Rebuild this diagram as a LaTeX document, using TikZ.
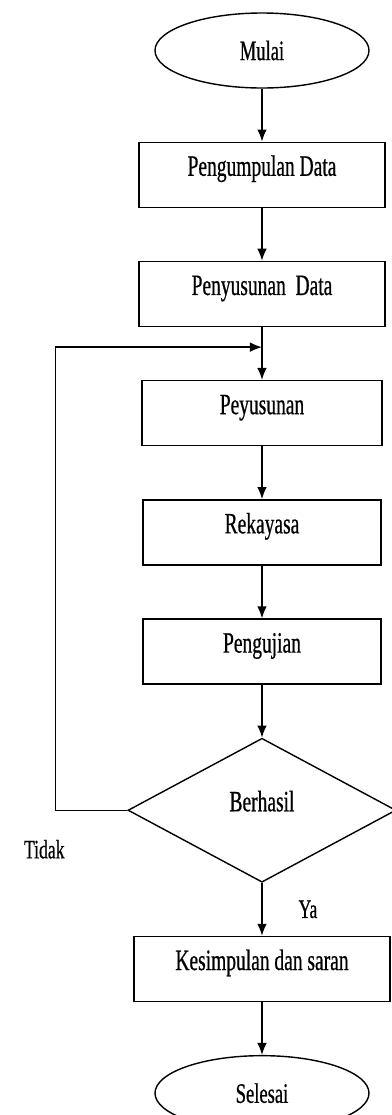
\documentclass[tikz,border=0pt]{standalone}
\usepackage{fontspec}
\setmainfont{Liberation Serif}[FakeStretch=0.66, FakeBold=0.6]
\usetikzlibrary{arrows,arrows.meta,positioning,shapes,calc}

\begin{document}
\begin{tikzpicture}[node distance=1.32cm, >={Latex[length=3mm,width=2.4mm]},
  line width=1pt]
\tikzstyle{proses} = [rectangle, draw=black, minimum width=6.15cm,
  minimum height=1.625cm, text height=0.7em, text depth=0.55em,
  font=\fontsize{21}{25}\selectfont]
\tikzstyle{terminal} = [ellipse, draw=black, minimum width=5.35cm,
  minimum height=1.875cm, font=\fontsize{20}{24}\selectfont]
\tikzstyle{keputusan} = [diamond, draw=black, minimum width=6.7cm,
  minimum height=3.6cm, text height=0.7em, text depth=0.55em,
  font=\fontsize{21}{25}\selectfont]
\tikzstyle{keterangan} = [font=\fontsize{19}{23}\selectfont]

\useasboundingbox (-6.55,1.2625) rectangle (3.225,-26.6125);

\node[terminal] (mulai) {Mulai};
\node[proses, below=of mulai] (pengumpulan) {Pengumpulan Data};
\node[proses, below=of pengumpulan] (penyusunandata) {Penyusunan~ Data};
\node[proses, minimum width=6cm, below=of penyusunandata] (peyusunan)
  {Peyusunan};
\node[proses, minimum width=5.95cm, below=of peyusunan] (rekayasa)
  {Rekayasa};
\node[proses, minimum width=5.95cm, below=of rekayasa] (pengujian)
  {Pengujian};
\node[keputusan, below=of pengujian] (berhasil) {Berhasil};
\node[proses, minimum width=6.4cm, below=of berhasil] (kesimpulan)
  {Kesimpulan dan saran};
\node[terminal, below=of kesimpulan] (selesai) {Selesai};

\coordinate[below=5mm of penyusunandata.south] (gabung);

\draw[->] (mulai) -- (pengumpulan);
\draw[->] (pengumpulan) -- (penyusunandata);
\draw[->] (penyusunandata) -- (peyusunan);
\draw[->] (peyusunan) -- (rekayasa);
\draw[->] (rekayasa) -- (pengujian);
\draw[->] (pengujian) -- (berhasil);
\draw[->] (berhasil) -- (kesimpulan)
  node[keterangan, midway, xshift=1.15cm] (ya) {Ya};
\draw[->] (kesimpulan) -- (selesai);

% jalur kembali
\draw[->] (berhasil.west) -- ++(-1.8,0) coordinate (sudut) |- (gabung);
\node[keterangan] (tidak) at ($(berhasil.west)+(-2.075,-0.975)$) {Tidak};
\end{tikzpicture}
\end{document}
